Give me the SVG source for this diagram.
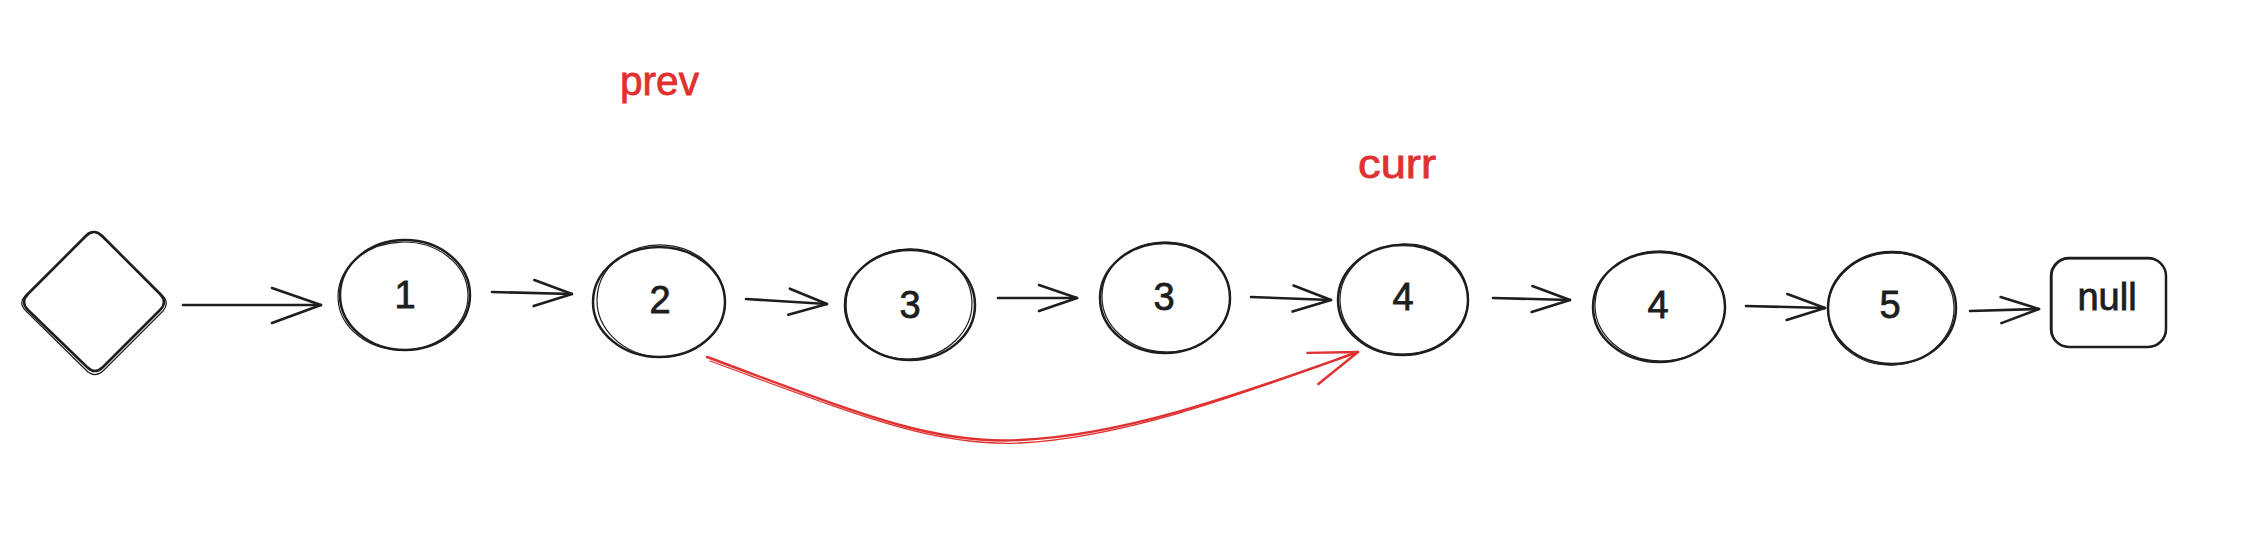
<svg xmlns="http://www.w3.org/2000/svg" width="2258" height="544" viewBox="0 0 2258 544">
  <style>
    .bg { fill: #ffffff; }
    .shape { fill: none; stroke: #1e1e1e; stroke-width: 2.5; stroke-linejoin: round; stroke-linecap: round; }
    .shape2 { fill: none; stroke: #1e1e1e; stroke-width: 1.2; stroke-linejoin: round; stroke-linecap: round; }
    .num { font-family: "Liberation Sans", Arial, sans-serif; font-size: 38px; fill: #1e1e1e; stroke: #1e1e1e; stroke-width: 0.8; text-anchor: middle; dominant-baseline: central; }
    .lbl { font-family: "Liberation Sans", Arial, sans-serif; font-size: 40px; fill: #e03131; stroke: #e03131; stroke-width: 0.8; }
    .edge { fill: none; stroke: #1e1e1e; stroke-width: 2.6; stroke-linecap: round; }
    .red { fill: none; stroke: #e03131; stroke-width: 2.4; stroke-linecap: round; }
    .red2 { fill: none; stroke: #e03131; stroke-width: 1.3; stroke-linecap: round; }
  </style>
  <defs>
    <marker id="ah" markerUnits="userSpaceOnUse" markerWidth="1" markerHeight="1" refX="0" refY="0" orient="auto" overflow="visible">
      <path d="M-38,-13 L0,0 L-38,13" fill="none" stroke="#1e1e1e" stroke-width="2.6" stroke-linecap="round" stroke-linejoin="round"/>
    </marker>
    <marker id="ahL" markerUnits="userSpaceOnUse" markerWidth="1" markerHeight="1" refX="0" refY="0" orient="auto" overflow="visible">
      <path d="M-49,-17 L0,0 L-49,18" fill="none" stroke="#1e1e1e" stroke-width="2.6" stroke-linecap="round" stroke-linejoin="round"/>
    </marker>
    <marker id="ahR" markerUnits="userSpaceOnUse" markerWidth="1" markerHeight="1" refX="0" refY="0" orient="auto" overflow="visible">
      <path d="M-48,-16 L0,0 L-48,17" fill="none" stroke="#e03131" stroke-width="2.4" stroke-linecap="round" stroke-linejoin="round"/>
    </marker>
  </defs>
  <rect class="bg" x="0" y="0" width="2258" height="544"/>

  <g id="connectors">
    <path class="edge" d="M183,305 L321,305" marker-end="url(#ahL)"/>
    <path class="edge" d="M492,292 L572,294" marker-end="url(#ah)"/>
    <path class="edge" d="M746,299 L827,304" marker-end="url(#ah)"/>
    <path class="edge" d="M998,298 L1077,298" marker-end="url(#ah)"/>
    <path class="edge" d="M1251,297 L1331,300" marker-end="url(#ah)"/>
    <path class="edge" d="M1493,298 L1570,300" marker-end="url(#ah)"/>
    <path class="edge" d="M1746,306 L1825,308" marker-end="url(#ah)"/>
    <path class="edge" d="M1970,311 L2039,309" marker-end="url(#ah)"/>
    <path class="red2" d="M710,361 C852,413 932,447 1020,443 C1130,437 1250,391 1356,353"/>
    <path class="red" d="M707,357 C850,410 930,445 1020,440 C1130,435 1250,390 1358,352" marker-end="url(#ahR)"/>
  </g>

  <g id="head">
    <path class="shape" d="M86,236 L28,294 Q20,302 28,310 L87,367 Q95,375 103,367 L160,310 Q168,302 160,294 L102,236 Q94,228 86,236 Z"/>
    <path class="shape2" d="M88,233 L25,296 Q18,303 26,311 L88,372 Q96,378 104,370 L163,311 Q170,303 162,295 L103,236 Q95,229 88,233 Z"/>
  </g>

  <g id="node1">
    <ellipse class="shape" cx="405" cy="295" rx="65" ry="55"/>
    <ellipse class="shape2" cx="403" cy="296" rx="65" ry="54" transform="rotate(-2 403 296)"/>
    <text class="num" x="405" y="295">1</text>
  </g>
  <g id="node2">
    <ellipse class="shape" cx="659" cy="302" rx="66" ry="55"/>
    <ellipse class="shape2" cx="661" cy="301" rx="64" ry="56" transform="rotate(3 661 301)"/>
    <text class="num" x="660" y="300">2</text>
  </g>
  <g id="node3">
    <ellipse class="shape" cx="910" cy="305" rx="65" ry="55"/>
    <ellipse class="shape2" cx="909" cy="304" rx="63" ry="55" transform="rotate(-3 909 304)"/>
    <text class="num" x="910" y="305">3</text>
  </g>
  <g id="node3b">
    <ellipse class="shape" cx="1165" cy="298" rx="65" ry="55"/>
    <ellipse class="shape2" cx="1166" cy="297" rx="64" ry="55" transform="rotate(2 1166 297)"/>
    <text class="num" x="1164" y="297">3</text>
  </g>
  <g id="node4">
    <ellipse class="shape" cx="1403" cy="300" rx="65" ry="55"/>
    <ellipse class="shape2" cx="1404" cy="299" rx="64" ry="55" transform="rotate(-3 1404 299)"/>
    <text class="num" x="1403" y="297">4</text>
  </g>
  <g id="node4b">
    <ellipse class="shape" cx="1659" cy="307" rx="66" ry="55"/>
    <ellipse class="shape2" cx="1660" cy="306" rx="65" ry="55" transform="rotate(2 1660 306)"/>
    <text class="num" x="1658" y="305">4</text>
  </g>
  <g id="node5">
    <ellipse class="shape" cx="1892" cy="308" rx="64" ry="56"/>
    <ellipse class="shape2" cx="1891" cy="309" rx="63" ry="56" transform="rotate(-4 1891 309)"/>
    <text class="num" x="1890" y="305">5</text>
  </g>
  <g id="null">
    <rect class="shape" x="2051" y="258" width="115" height="89" rx="18"/>
    <rect class="shape2" x="2052" y="259" width="114" height="88" rx="17"/>
    <text class="num" x="2107" y="297">null</text>
  </g>

  <g id="label-prev">
    <text class="lbl" x="620" y="95" textLength="79" lengthAdjust="spacingAndGlyphs">prev</text>
  </g>
  <g id="label-curr">
    <text class="lbl" x="1358" y="178" textLength="78" lengthAdjust="spacingAndGlyphs">curr</text>
  </g>
</svg>
